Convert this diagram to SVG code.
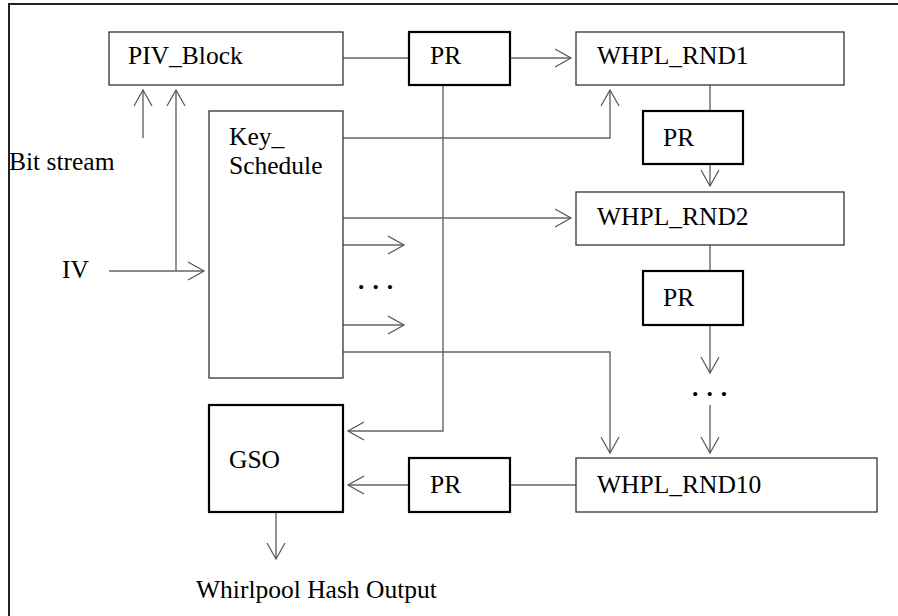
<svg xmlns="http://www.w3.org/2000/svg" width="898" height="616" viewBox="0 0 898 616" font-family="'Liberation Serif', 'Times New Roman', 'DejaVu Serif', serif" font-size="25.5">
<defs>
<marker id="ah" markerUnits="userSpaceOnUse" markerWidth="20" markerHeight="22" refX="0" refY="0" viewBox="-18 -11 20 22" orient="auto" overflow="visible">
<path d="M-16,-9 L0,0 L-16,9" fill="none" stroke="#555" stroke-width="1.2"/>
</marker>
<style>
.t{font-family:'Liberation Serif','Times New Roman','DejaVu Serif',serif;font-size:25.5px;fill:#000}
.box{fill:#fff;stroke:#333;stroke-width:1.3}
.bold{fill:#fff;stroke:#000;stroke-width:2.2}
.c{fill:none;stroke:#666;stroke-width:1.4}
.a{marker-end:url(#ah)}
.dots{letter-spacing:8px;font-weight:bold}
</style>
</defs>
<rect width="898" height="616" fill="#fff"/>
<path d="M9,616 V4 H898" fill="none" stroke="#222" stroke-width="2"/>
<g id="connectors">
<path class="c" d="M343,58 H409"/>
<path class="c a" d="M510,58 H571"/>
<path class="c" d="M710,85 V111"/>
<path class="c a" d="M710,164 V186"/>
<path class="c" d="M710,245 V271"/>
<path class="c a" d="M710,325 V373"/>
<path class="c a" d="M710,405 V453"/>
<path class="c a" d="M343,138 H610 V90"/>
<path class="c a" d="M343,218 H571"/>
<path class="c a" d="M343,245 H404"/>
<path class="c a" d="M343,325 H404"/>
<path class="c a" d="M343,352 H610 V453"/>
<path class="c a" d="M443,85 V431 H348"/>
<path class="c" d="M576,485 H510"/>
<path class="c a" d="M409,485 H348"/>
<path class="c a" d="M276,512 V559"/>
<path class="c a" d="M143,138 V90"/>
<path class="c a" d="M109,271 H204"/>
<path class="c a" d="M176,271 V90"/>
</g>
<g id="piv_block"><rect class="box" x="109" y="32" width="234" height="53"/><text class="t" x="128" y="64">PIV_Block</text></g>
<g id="pr_top"><rect class="bold" x="409" y="32" width="101" height="53"/><text class="t" x="430" y="64">PR</text></g>
<g id="whpl_rnd1"><rect class="box" x="576" y="32" width="268" height="53"/><text class="t" x="597" y="64">WHPL_RND1</text></g>
<g id="pr_2"><rect class="bold" x="643" y="111" width="100" height="53"/><text class="t" x="663" y="146">PR</text></g>
<g id="whpl_rnd2"><rect class="box" x="576" y="192" width="268" height="53"/><text class="t" x="597" y="225">WHPL_RND2</text></g>
<g id="pr_3"><rect class="bold" x="643" y="271" width="100" height="54"/><text class="t" x="663" y="306">PR</text></g>
<g id="dots_right"><text class="t dots" x="692" y="396">...</text></g>
<g id="whpl_rnd10"><rect class="box" x="576" y="458" width="301" height="54"/><text class="t" x="597" y="493">WHPL_RND10</text></g>
<g id="pr_bottom"><rect class="bold" x="409" y="458" width="101" height="54"/><text class="t" x="430" y="493">PR</text></g>
<g id="gso"><rect class="bold" x="209" y="405" width="134" height="107"/><text class="t" x="229" y="468">GSO</text></g>
<g id="key_schedule"><rect class="box" x="209" y="111" width="134" height="267"/><text class="t" x="229" y="145">Key_</text><text class="t" x="229" y="174">Schedule</text></g>
<g id="dots_left"><text class="t dots" x="358" y="289">...</text></g>
<g id="labels">
<text class="t" x="9" y="170">Bit stream</text>
<text class="t" x="62" y="278">IV</text>
<text class="t" x="196" y="598">Whirlpool Hash Output</text>
</g>
</svg>
